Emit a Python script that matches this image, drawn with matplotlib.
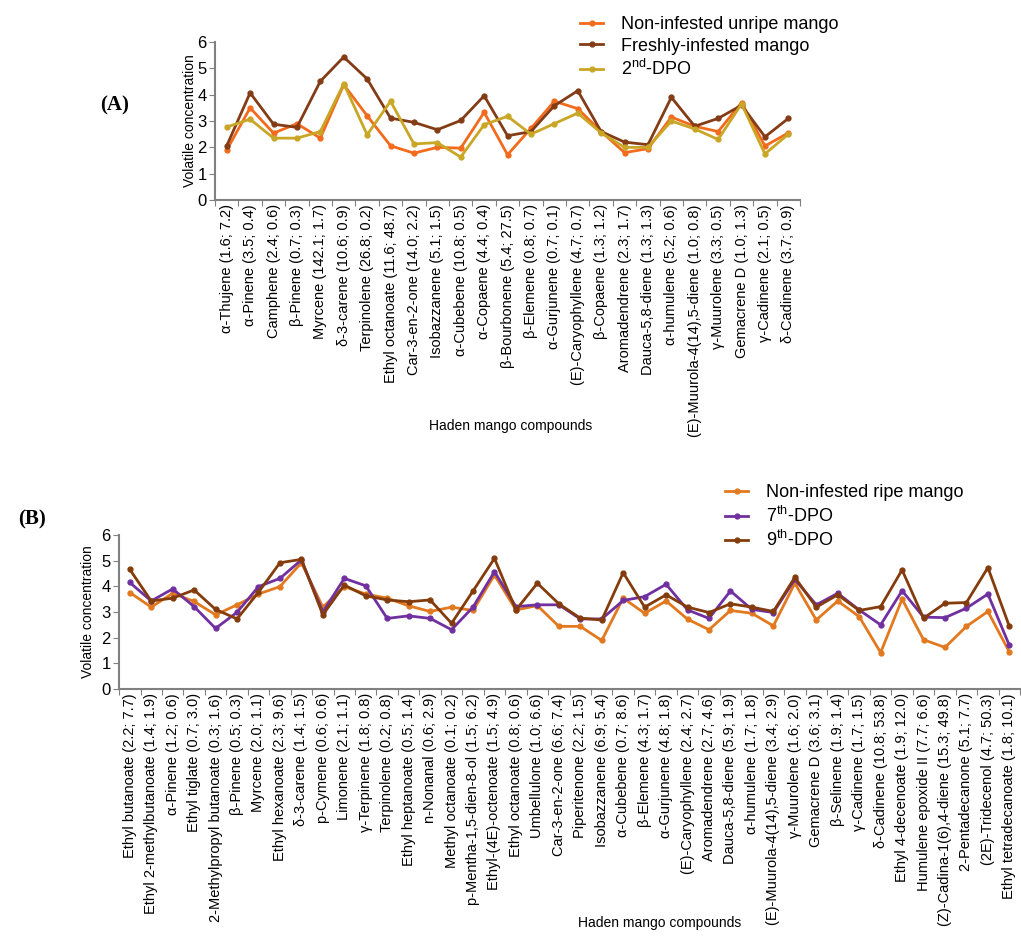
import matplotlib
matplotlib.use('Agg')
import matplotlib.pyplot as plt
import numpy as np

plt.rcParams['font.family'] = ['Liberation Sans', 'DejaVu Sans']
plt.rcParams['mathtext.fontset'] = 'custom'
plt.rcParams['mathtext.rm'] = 'Liberation Sans'

# panel A data
compounds_a = ['α-Thujene (1.6; 7.2)', 'α-Pinene (3.5; 0.4)', 'Camphene (2.4; 0.6)',
               'β-Pinene (0.7; 0.3)', 'Myrcene (142.1; 1.7)', 'δ-3-carene (10.6; 0.9)',
               'Terpinolene (26.8; 0.2)', 'Ethyl octanoate (11.6; 48.7)', 'Car-3-en-2-one (14.0; 2.2)',
               'Isobazzanene (5.1; 1.5)', 'α-Cubebene (10.8; 0.5)', 'α-Copaene (4.4; 0.4)',
               'β-Bourbonene (5.4; 27.5)', 'β-Elemene (0.8; 0.7)', 'α-Gurjunene (0.7; 0.1)',
               '(E)-Caryophyllene (4.7; 0.7)', 'β-Copaene (1.3; 1.2)', 'Aromadendrene (2.3; 1.7)',
               'Dauca-5,8-diene (1.3; 1.3)', 'α-humulene (5.2; 0.6)', '(E)-Muurola-4(14),5-diene (1.0; 0.8)',
               'γ-Muurolene (3.3; 0.5)', 'Gemacrene D (1.0; 1.3)', 'γ-Cadinene (2.1; 0.5)',
               'δ-Cadinene (3.7; 0.9)']
unripe = [1.9, 3.5, 2.54, 2.9, 2.35, 4.38, 3.2, 2.06, 1.78, 2.0, 1.97, 3.33, 1.72,
          2.72, 3.75, 3.47, 2.6, 1.8, 1.95, 3.15, 2.8, 2.6, 3.7, 2.05, 2.55]
freshly = [2.06, 4.07, 2.88, 2.76, 4.51, 5.43, 4.6, 3.11, 2.95, 2.67, 3.02, 3.96, 2.44,
           2.6, 3.58, 4.15, 2.6, 2.2, 2.1, 3.9, 2.8, 3.1, 3.6, 2.4, 3.1]
dpo2 = [2.77, 3.07, 2.35, 2.35, 2.6, 4.42, 2.48, 3.75, 2.13, 2.18, 1.63, 2.86, 3.18,
        2.5, 2.9, 3.3, 2.55, 2.0, 2.0, 3.0, 2.7, 2.3, 3.65, 1.75, 2.5]

# panel B data
compounds_b = ['Ethyl butanoate (2.2; 7.7)', 'Ethyl 2-methylbutanoate (1.4; 1.9)', 'α-Pinene (1.2; 0.6)',
               'Ethyl tiglate (0.7; 3.0)', '2-Methylpropyl butanoate (0.3; 1.6)', 'β-Pinene (0.5; 0.3)',
               'Myrcene (2.0; 1.1)', 'Ethyl hexanoate (2.3; 9.6)', 'δ-3-carene (1.4; 1.5)',
               'p-Cymene (0.6; 0.6)', 'Limonene (2.1; 1.1)', 'γ-Terpinene (1.8; 0.8)',
               'Terpinolene (0.2; 0.8)', 'Ethyl heptanoate (0.5; 1.4)', 'n-Nonanal (0.6; 2.9)',
               'Methyl octanoate (0.1; 0.2)', 'p-Mentha-1,5-dien-8-ol (1.5; 6.2)', 'Ethyl-(4E)-octenoate (1.5; 4.9)',
               'Ethyl octanoate (0.8; 0.6)', 'Umbellulone (1.0; 6.6)', 'Car-3-en-2-one (6.6; 7.4)',
               'Piperitenone (2.2; 1.5)', 'Isobazzanene (6.9; 5.4)', 'α-Cubebene (0.7; 8.6)',
               'β-Elemene (4.3; 1.7)', 'α-Gurjunene (4.8; 1.8)', '(E)-Caryophyllene (2.4; 2.7)',
               'Aromadendrene (2.7; 4.6)', 'Dauca-5,8-diene (5.9; 1.9)', 'α-humulene (1.7; 1.8)',
               '(E)-Muurola-4(14),5-diene (3.4; 2.9)', 'γ-Muurolene (1.6; 2.0)', 'Gemacrene D (3.6; 3.1)',
               'β-Selinene (1.9; 1.4)', 'γ-Cadinene (1.7; 1.5)', 'δ-Cadinene (10.8; 53.8)',
               'Ethyl 4-decenoate (1.9; 12.0)', 'Humulene epoxide II (7.7; 6.6)', '(Z)-Cadina-1(6),4-diene (15.3; 49.8)',
               '2-Pentadecanone (5.1; 7.7)', '(2E)-Tridecenol (4.7; 50.3)', 'Ethyl tetradecanoate (1.8; 10.1)']
ripe = [3.76, 3.19, 3.73, 3.41, 2.89, 3.28, 3.7, 3.99, 4.92, 3.19, 3.99, 3.7, 3.54, 3.24,
        3.02, 3.19, 3.06, 4.44, 3.08, 3.25, 2.44, 2.44, 1.89, 3.54, 2.95, 3.43, 2.72, 2.31,
        3.06, 2.95, 2.46, 4.12, 2.69, 3.43, 2.82, 1.42, 3.5, 1.92, 1.62, 2.44, 3.02, 1.44]
dpo7 = [4.15, 3.43, 3.9, 3.21, 2.36, 2.99, 3.99, 4.31, 5.03, 3.0, 4.31, 4.02, 2.75, 2.85,
        2.75, 2.31, 3.19, 4.57, 3.21, 3.28, 3.28, 2.73, 2.73, 3.45, 3.6, 4.08, 3.08, 2.75,
        3.82, 3.1, 2.98, 4.27, 3.28, 3.73, 3.08, 2.5, 3.83, 2.8, 2.78, 3.15, 3.7, 1.7]
dpo9 = [4.66, 3.43, 3.54, 3.86, 3.1, 2.73, 3.77, 4.92, 5.05, 2.89, 4.05, 3.63, 3.47, 3.4,
        3.47, 2.56, 3.82, 5.09, 3.08, 4.12, 3.32, 2.76, 2.69, 4.53, 3.19, 3.67, 3.19, 2.98,
        3.32, 3.19, 3.02, 4.35, 3.19, 3.67, 3.06, 3.21, 4.64, 2.76, 3.34, 3.37, 4.73, 2.44]

fig = plt.figure(figsize=(10.21, 9.36), dpi=100)


def setup(ax, names):
    n = len(names)
    x = np.arange(n)
    ax.set_xlim(-0.5, n - 0.5)
    ax.set_ylim(0, 6)
    ax.set_yticks(range(7))
    ax.set_xticks(np.arange(n + 1) - 0.5)
    ax.set_xticklabels([])
    ax.set_xticks(x, minor=True)
    ax.set_xticklabels(names, minor=True, rotation=90, fontsize=10.5)
    ax.tick_params(axis='x', which='minor', length=0, pad=3)
    ax.tick_params(axis='x', which='major', length=4, color='#808080', direction='out')
    ax.tick_params(axis='y', length=4, color='#808080', labelsize=12, pad=2)
    for s in ['top', 'right']:
        ax.spines[s].set_visible(False)
    for s in ['left', 'bottom']:
        ax.spines[s].set_color('#808080')
        ax.spines[s].set_linewidth(1.5)
    ax.set_ylabel('Volatile concentration', fontsize=10)
    return x


# panel A
ax1 = fig.add_axes([0.2106, 0.7863, 0.573, 0.1688])
xa = setup(ax1, compounds_a)
ax1.plot(xa, unripe, color='#f26b1d', lw=2, marker='o', ms=3.5, label='Non-infested unripe mango')
ax1.plot(xa, freshly, color='#833c16', lw=2, marker='o', ms=3.5, label='Freshly-infested mango')
ax1.plot(xa, dpo2, color='#c9a625', lw=2, marker='o', ms=3.5, label='2$^{\\mathrm{nd}}$-DPO')
ax1.yaxis.set_label_coords(-0.031, 0.5)
ax1.set_xlabel('Haden mango compounds', fontsize=10)
ax1.xaxis.set_label_coords(0.505, -1.386)
fig.legend(*ax1.get_legend_handles_labels(), loc='upper left', bbox_to_anchor=(0.552, 1.0),
           frameon=False, fontsize=13, handlelength=1.3, handletextpad=1.0, labelspacing=0.25)
fig.text(0.098, 0.882, '(A)', fontsize=15, fontweight='bold', family='Liberation Serif')

# panel B
ax2 = fig.add_axes([0.1166, 0.2639, 0.8825, 0.1645])
xb = setup(ax2, compounds_b)
ax2.plot(xb, ripe, color='#e2791f', lw=2, marker='o', ms=3.5, label='Non-infested ripe mango')
ax2.plot(xb, dpo7, color='#7030a0', lw=2, marker='o', ms=3.5, label='7$^{\\mathrm{th}}$-DPO')
ax2.plot(xb, dpo9, color='#843c0c', lw=2, marker='o', ms=3.5, label='9$^{\\mathrm{th}}$-DPO')
ax2.yaxis.set_label_coords(-0.027, 0.5)
ax2.set_xlabel('Haden mango compounds', fontsize=10)
ax2.xaxis.set_label_coords(0.6, -1.474)
fig.legend(*ax2.get_legend_handles_labels(), loc='upper left', bbox_to_anchor=(0.694, 0.5),
           frameon=False, fontsize=13, handlelength=1.3, handletextpad=1.0, labelspacing=0.25)
fig.text(0.018, 0.44, '(B)', fontsize=15, fontweight='bold', family='Liberation Serif')

fig.savefig('out.png', dpi=100)
